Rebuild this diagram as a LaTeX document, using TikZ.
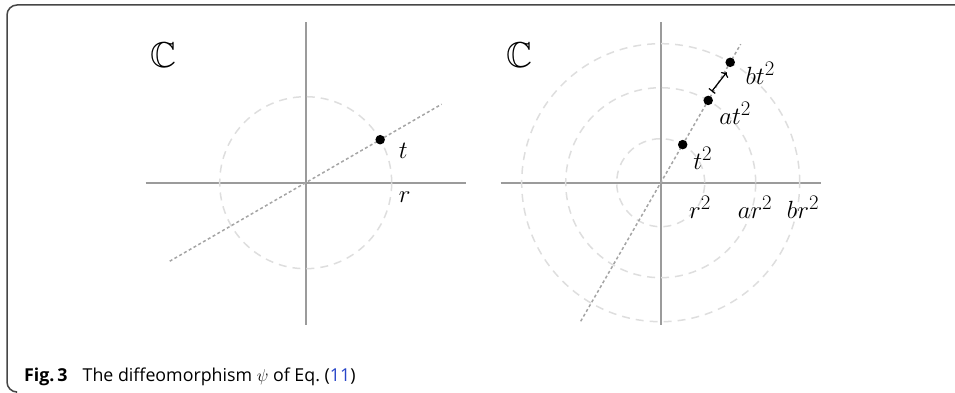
\documentclass[tikz,border=0pt]{standalone}
\usepackage{amssymb}
\usepackage{fontspec}
\usetikzlibrary{arrows.meta,calc}
\newfontfamily\capfont{Open Sans}
\newcommand\lblfont{\fontsize{32}{38}\selectfont}
\newcommand\planefont{\fontsize{36}{42}\selectfont}
\definecolor{framegray}{RGB}{70,70,70}
\definecolor{axisgray}{RGB}{155,155,155}
\definecolor{ringgray}{RGB}{222,222,222}
\definecolor{raygray}{RGB}{165,165,165}
\definecolor{refblue}{RGB}{40,70,200}

\begin{document}
\begin{tikzpicture}[x=1pt,y=1pt,
    axis/.style={draw=axisgray,line width=2pt},
    ring/.style={draw=ringgray,line width=1.5pt,dash pattern=on 8pt off 6pt},
    ray/.style={draw=raygray,line width=1.5pt,dash pattern=on 3pt off 2.5pt},
    dot/.style={circle,fill=black,inner sep=0pt,minimum size=9.5pt},
    lbl/.style={font=\lblfont,inner sep=0pt},
    plane/.style={font=\planefont,inner sep=0pt},
    maparrow/.style={{Bar[width=8pt]}-{To[length=4pt,width=9pt]},line width=1.2pt}
]
    \useasboundingbox (0,0) rectangle (955,392);
    % figure frame
    \draw[framegray,line width=1.5pt,rounded corners=10pt] (960,387) -- (7,387) -- (7,0) -- (16,0);

    % left plane: the point t on the circle of radius r
    \begin{scope}[shift={(305.7,209.3)}]
        \coordinate (oL) at (0,0);
        \draw[axis] (-160,0) -- (160,0);
        \draw[axis] (0,-142) -- (0,161);
        \draw[ring] (oL) circle[radius=86];
        \draw[ray] (210:157) -- (30:157);
        \node[dot] (tL) at (30:86) {};
        \node[lbl] (tLlbl) at ($(tL)+(23,-11)$) {$t$};
        \node[lbl] (rL) at (99,-14) {$r$};
        \node[plane] (cL) at (-142,128) {$\mathbb{C}$};
    \end{scope}

    % right plane: images on the circles r^2, ar^2, br^2
    \begin{scope}[shift={(660.7,209.3)}]
        \coordinate (oR) at (0,0);
        \draw[axis] (-160,0) -- (160,0);
        \draw[axis] (0,-142) -- (0,161);
        \foreach \rad in {44,95,139}
            \draw[ring] (oR) circle[radius=\rad];
        \draw[ray] (240:160) -- (60:160);
        \node[dot] (t2) at (60:44) {};
        \node[dot] (at2) at (60:95) {};
        \node[dot] (bt2) at (60:139) {};
        \node[lbl] (t2lbl) at ($(t2)+(20,-14)$) {$t^2$};
        \node[lbl] (at2lbl) at ($(at2)+(27,-13)$) {$at^2$};
        \node[lbl] (bt2lbl) at ($(bt2)+(30,-11)$) {$bt^2$};
        \node[lbl] (r2) at (39.3,-25) {$r^2$};
        \node[lbl] (ar2) at (94.3,-25) {$ar^2$};
        \node[lbl] (br2) at (142.3,-25) {$br^2$};
        \node[plane] (cR) at (-141,128) {$\mathbb{C}$};
        \coordinate (mapfrom) at ($(at2)+(3.5,9)$);
        \coordinate (mapto) at ($(bt2)+(-3.5,-10)$);
        \draw[maparrow] (mapfrom) -- (mapto);
    \end{scope}

    \node[anchor=base west,inner sep=0pt,font=\capfont\fontsize{17.8}{21}\selectfont] (caption) at (24,11)
        {\textbf{Fig.\,3}\hspace{15pt}The diffeomorphism $\psi$ of Eq.~(\textcolor{refblue}{11})};
\end{tikzpicture}
\end{document}
